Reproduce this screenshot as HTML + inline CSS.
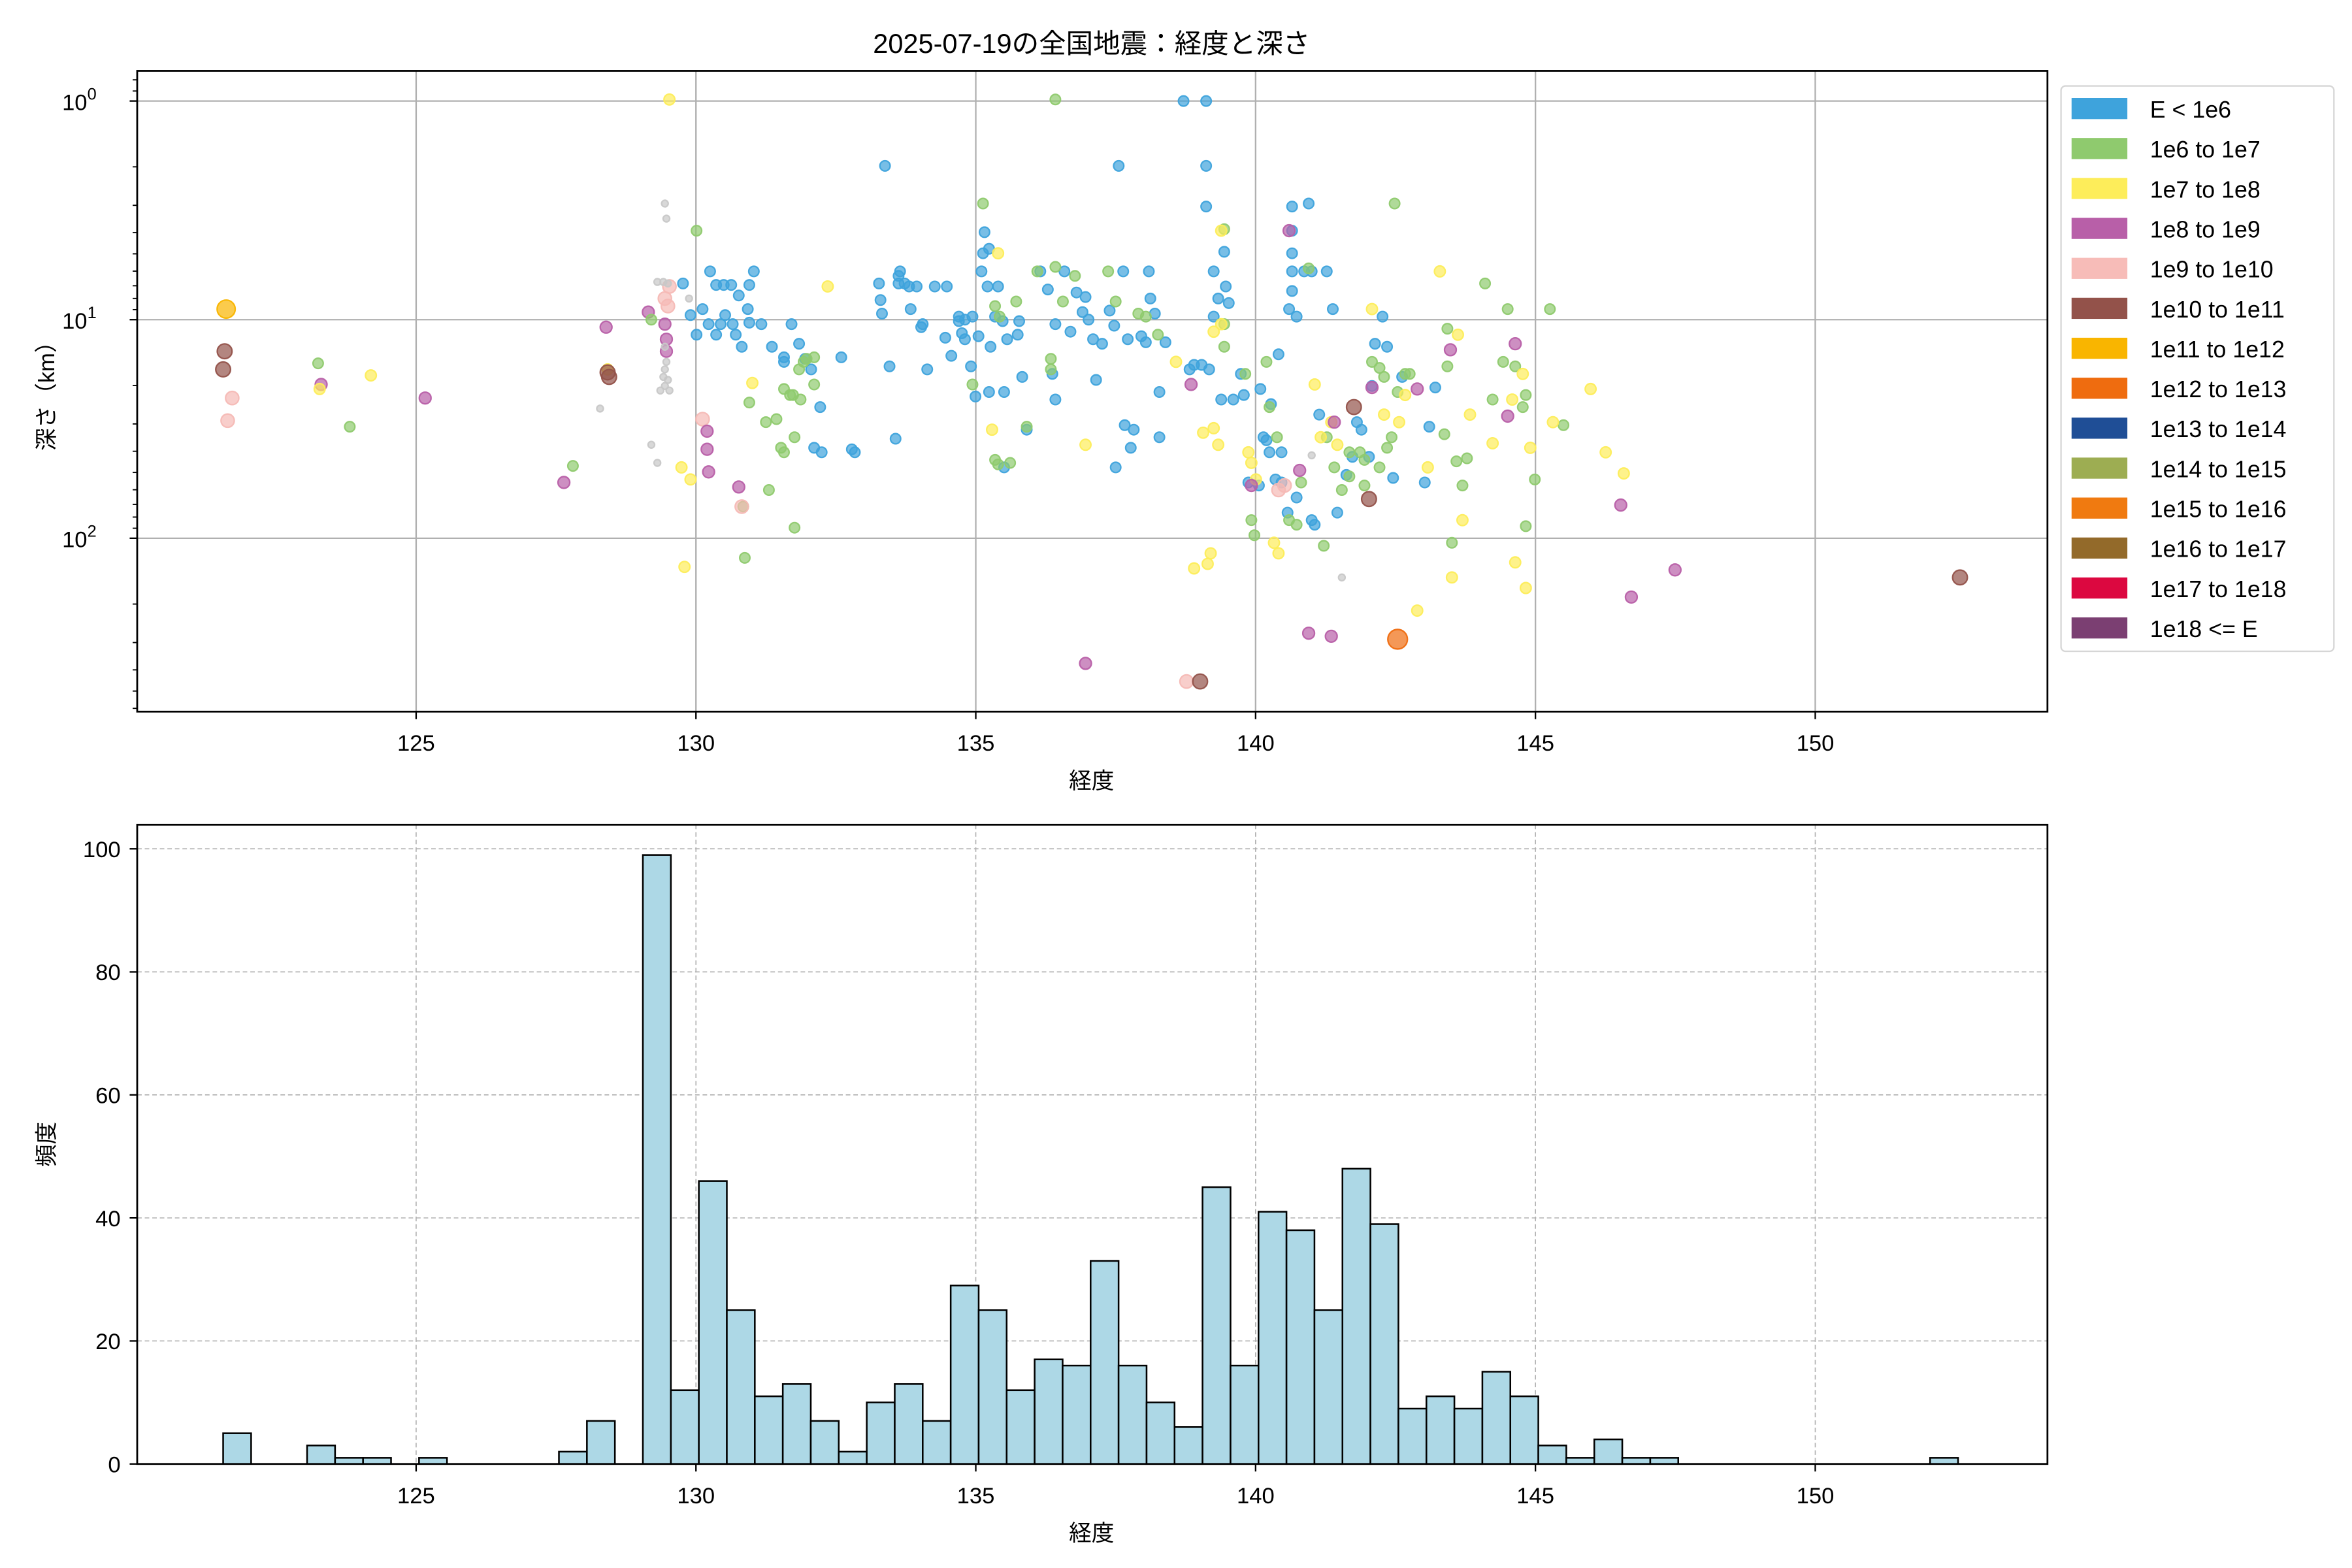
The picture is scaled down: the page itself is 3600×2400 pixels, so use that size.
<!DOCTYPE html>
<html><head><meta charset="utf-8"><style>
html,body{margin:0;padding:0;background:#fff}
svg{display:block}
text{font-family:"Liberation Sans","DejaVu Sans","Noto Sans CJK JP",sans-serif;fill:#000}
</style></head><body>
<svg id="s" xmlns="http://www.w3.org/2000/svg" width="3600" height="2400" viewBox="0 0 1560 1040">
<rect width="1560" height="1040" fill="#fff"/>
<g id="g1"></g>
<text x="724" y="35" font-size="18" text-anchor="middle">2025-07-19の全国地震：経度と深さ</text>
<text x="724" y="523" font-size="15" text-anchor="middle">経度</text>
<text x="724" y="1022" font-size="15" text-anchor="middle">経度</text>
<text x="36" y="259" font-size="15" text-anchor="middle" transform="rotate(-90 36 259)">深さ（km）</text>
<text x="36" y="759" font-size="15" text-anchor="middle" transform="rotate(-90 36 759)">頻度</text>
</svg>
<script>
var g=document.getElementById('g1'),h='';
var X=function(l){return 276+(l-125)*37.12;};
[125,130,135,140,145,150].forEach(function(v){var x=X(v);
h+='<line x1="'+x+'" y1="47" x2="'+x+'" y2="472" stroke="#b0b0b0" stroke-width="1"/>';
h+='<line x1="'+x+'" y1="472" x2="'+x+'" y2="477" stroke="#000" stroke-width="1"/>';
h+='<text x="'+x+'" y="498" font-size="15" text-anchor="middle">'+v+'</text>';
h+='<line x1="'+x+'" y1="547" x2="'+x+'" y2="971" stroke="#b0b0b0" stroke-width="0.7" stroke-dasharray="3,2"/>';
h+='<line x1="'+x+'" y1="971" x2="'+x+'" y2="976" stroke="#000" stroke-width="1"/>';
h+='<text x="'+x+'" y="997" font-size="15" text-anchor="middle">'+v+'</text>';});
[67,212,357].forEach(function(y,i){
h+='<line x1="91" y1="'+y+'" x2="1358" y2="'+y+'" stroke="#b0b0b0" stroke-width="1"/>';
h+='<line x1="86" y1="'+y+'" x2="91" y2="'+y+'" stroke="#000" stroke-width="1"/>';
h+='<text x="64" y="'+(y+6)+'" font-size="15" text-anchor="end">10<tspan dy="-7" font-size="11">'+i+'</tspan></text>';});
[0.8,0.9,2,3,4,5,6,7,8,9,20,30,40,50,60,70,80,90,200,300,400,500,600].forEach(function(d){var y=67+Math.log10(d)*145;
if(y>47&&y<472)h+='<line x1="88" y1="'+y+'" x2="91" y2="'+y+'" stroke="#000" stroke-width="0.8"/>';});
var C={b:'#3ea3dc',g:'#8fca6e',y:'#fded5a',p:'#b85fa8',k:'#f5b9b5',r:'#93524a',o:'#f9b500',O:'#ef6c0f',x:'#c8c8c8'};
var R={b:3.4,g:3.4,y:3.6,p:3.9,k:4.4,r:4.9,o:6,O:6.5,x:2.2};
var P="150,205,o;149,233,r;148,245,r;154,264,k;151,279,k;211,241,g;213,255,p;212,258,y;246,249,y;282,264,p;232,283,g;374,320,p;380,309,g;402,217,p;403,245,y;403,247,r;404,250,r;430,207,p;432,212,g;441,215,p;442,225,p;442,233,p;443,203,k;444,66,y;441,198,k;444,190,k;462,153,g;452,310,y;458,318,y;454,376,y;466,278,k;469,298,p;470,313,p;469,286,p;490,323,p;493,336,g;492,336,k;494,370,g;499,254,y;497,267,g;"+
"453,188,b;466,205,b;471,180,b;475,189,b;480,189,b;485,189,b;490,196,b;497,189,b;496,205,b;475,222,b;481,209,b;486,215,b;492,230,b;497,214,b;500,180,b;505,215,b;512,230,b;520,240,b;525,215,b;530,228,b;534,238,b;538,245,b;544,270,b;540,297,b;545,300,b;558,237,b;565,298,b;567,300,b;520,237,b;470,215,b;478,215,b;488,222,b;462,222,b;458,209,b;"+
"508,280,g;515,278,g;520,258,g;524,262,g;527,290,g;530,245,g;533,240,g;540,255,g;531,265,g;526,262,g;518,297,g;510,325,g;527,350,g;520,300,g;549,190,y;540,237,g;535,238,g;"+
"587,110,b;583,188,b;584,199,b;585,208,b;590,243,b;596,188,b;597,180,b;600,188,b;603,190,b;604,205,b;608,190,b;612,215,b;620,190,b;628,190,b;636,213,b;638,221,b;640,225,b;644,243,b;651,180,b;652,168,b;653,154,b;655,190,b;657,230,b;656,260,b;662,190,b;666,260,b;666,310,b;647,263,b;"+
"594,291,b;596,183,b;611,217,b;615,245,b;627,224,b;631,236,b;636,210,b;649,223,b;645,210,b;656,165,b;660,210,b;665,213,b;668,225,b;676,213,b;678,250,b;681,285,b;690,180,b;695,192,b;698,248,b;700,265,b;706,180,b;710,220,b;714,194,b;718,207,b;720,197,b;722,212,b;727,252,b;731,228,b;736,206,b;739,216,b;742,110,b;745,180,b;750,297,b;746,282,b;740,310,b;752,285,b;757,223,b;762,180,b;763,198,b;766,208,b;769,260,b;769,290,b;773,227,b;785,67,b;789,245,b;792,242,b;797,242,b;800,67,b;800,110,b;800,137,b;805,180,b;808,198,b;812,167,b;813,190,b;815,201,b;805,210,b;802,245,b;810,265,b;818,265,b;640,212,b;675,222,b;700,215,b;725,225,b;748,225,b;760,227,b;"+
"652,135,g;660,203,g;663,210,g;674,200,g;688,180,g;700,177,g;705,200,g;713,183,g;700,66,g;697,245,g;697,238,g;735,180,g;755,208,g;768,222,g;812,152,g;812,215,g;812,230,g;760,210,g;740,200,g;660,305,g;662,308,g;681,283,g;670,307,g;645,255,g;"+
"658,285,y;662,168,y;720,295,y;780,240,y;798,287,y;805,284,y;808,295,y;810,153,y;805,220,y;792,377,y;803,367,y;801,374,y;810,215,y;790,255,p;720,440,p;787,452,k;796,452,r;"+
"823,248,b;825,262,b;828,320,b;835,322,b;838,290,b;840,292,b;842,300,b;846,318,b;850,300,b;854,340,b;857,137,b;857,153,b;857,168,b;857,180,b;857,193,b;855,205,b;860,210,b;865,180,b;868,135,b;870,180,b;875,275,b;880,180,b;884,205,b;887,340,b;893,315,b;897,303,b;903,285,b;908,303,b;912,228,b;917,210,b;920,230,b;924,317,b;930,250,b;945,320,b;948,283,b;952,257,b;870,345,b;872,348,b;860,330,b;850,320,b;848,235,b;843,268,b;836,258,b;900,280,b;910,256,b;"+
"826,248,g;830,345,g;832,355,g;840,240,g;842,270,g;847,290,g;855,345,g;860,348,g;863,320,g;868,178,g;878,362,g;885,310,g;890,325,g;895,316,g;902,300,g;905,322,g;910,240,g;915,244,g;918,250,g;920,297,g;923,290,g;925,135,g;927,260,g;932,248,g;935,248,g;958,288,g;960,218,g;963,360,g;966,306,g;970,322,g;973,304,g;985,188,g;990,265,g;997,240,g;1000,205,g;1005,243,g;1010,270,g;1012,262,g;1018,318,g;1028,205,g;1037,282,g;1012,349,g;960,243,g;880,290,g;895,300,g;905,305,g;915,310,g;"+
"828,300,y;830,307,y;833,318,y;845,360,y;848,367,y;872,255,y;876,290,y;883,280,y;887,295,y;910,205,y;918,275,y;928,280,y;932,262,y;940,405,y;947,310,y;955,180,y;963,383,y;967,222,y;970,345,y;975,275,y;990,294,y;1003,265,y;1005,373,y;1010,248,y;1012,390,y;1015,297,y;1030,280,y;1055,258,y;1065,300,y;1077,314,y;"+
"830,322,p;855,153,p;862,312,p;868,420,p;883,422,p;885,280,p;910,257,p;940,258,p;962,232,p;1000,276,p;1005,228,p;1075,335,p;1082,396,p;1111,378,p;848,325,k;852,322,k;898,270,r;908,331,r;1300,383,r;927,424,O;890,383,x;870,302,x;"+
"441,135,x;442,145,x;440,187,x;443,188,x;436,187,x;441,230,x;442,240,x;441,245,x;440,250,x;443,252,x;441,256,x;438,259,x;444,259,x;398,271,x;432,295,x;436,307,x;457,198,x";
P.split(';').forEach(function(s){var a=s.split(',');var c=a[2];
h+='<circle cx="'+a[0]+'" cy="'+a[1]+'" r="'+R[c]+'" fill="'+C[c]+'" fill-opacity="0.7" stroke="'+C[c]+'" stroke-width="1" stroke-opacity="0.95"/>';});
h+='<rect x="91" y="47" width="1267" height="425" fill="none" stroke="#000" stroke-width="1.2"/>';
h+='<rect x="1367" y="57" width="181" height="375" rx="3" fill="#fff" stroke="#d6d6d6" stroke-width="1"/>';
var L=[['E < 1e6','#3ea3dc'],['1e6 to 1e7','#8fca6e'],['1e7 to 1e8','#fded5a'],['1e8 to 1e9','#b85fa8'],['1e9 to 1e10','#f7bcb8'],['1e10 to 1e11','#93524a'],['1e11 to 1e12','#f9b500'],['1e12 to 1e13','#ef6c0f'],['1e13 to 1e14','#1f4e96'],['1e14 to 1e15','#9dad52'],['1e15 to 1e16','#f07a10'],['1e16 to 1e17','#936a2a'],['1e17 to 1e18','#dc0840'],['1e18 <= E','#7b3f72']];
L.forEach(function(e,i){var y=72+i*26.5;
h+='<rect x="1374" y="'+(y-7)+'" width="37" height="14" fill="'+e[1]+'"/>';
h+='<text x="1426" y="'+(y+6)+'" font-size="15.5">'+e[0]+'</text>';});
[0,20,40,60,80,100].forEach(function(v){var y=971-v*4.08;
if(v>0)h+='<line x1="91" y1="'+y+'" x2="1358" y2="'+y+'" stroke="#b0b0b0" stroke-width="0.7" stroke-dasharray="3,2"/>';
h+='<line x1="86" y1="'+y+'" x2="91" y2="'+y+'" stroke="#000" stroke-width="1"/>';
h+='<text x="80" y="'+(y+5.5)+'" font-size="15" text-anchor="end">'+v+'</text>';});
var B={0:5,3:3,4:1,5:1,7:1,12:2,13:7,15:99,16:12,17:46,18:25,19:11,20:13,21:7,22:2,23:10,24:13,25:7,26:29,27:25,28:12,29:17,30:16,31:33,32:16,33:10,34:6,35:45,36:16,37:41,38:38,39:25,40:48,41:39,42:9,43:11,44:9,45:15,46:11,47:3,48:1,49:4,50:1,51:1,61:1};
for(var n=0;n<62;n++){var v=B[n]||0;if(!v)continue;var x=148+n*18.56,hh=v*4.08;
h+='<rect x="'+x+'" y="'+(971-hh)+'" width="18.56" height="'+hh+'" fill="#add8e6" stroke="#000" stroke-width="1.1"/>';}
h+='<rect x="91" y="547" width="1267" height="424" fill="none" stroke="#000" stroke-width="1.2"/>';
g.innerHTML=h;
</script>
</body></html>
